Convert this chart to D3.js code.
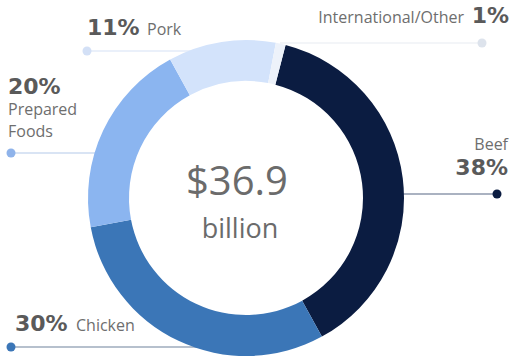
<!DOCTYPE html>
<html>
<head>
<meta charset="utf-8">
<script src="https://cdn.jsdelivr.net/npm/d3@7"></script>
<style>
  html, body { margin: 0; padding: 0; background: #ffffff; }
  svg { display: block; }
</style>
</head>
<body>
<div id="chart"></div>
<script>
// Segment data (share of $36.9 billion in sales)
const categories = ["Beef", "Chicken", "Prepared Foods", "Pork", "International/Other"];
const shares = [38, 30, 20, 11, 1];
const colors = ["#0b1c41", "#3b76b7", "#8bb5f0", "#d3e3fb", "#edf2fa"];
const totalLabel = "$36.9";
const unitLabel = "billion";

const width = 513, height = 360;
const cx = 246, cy = 198;
const outerR = 158, innerR = 117;

const svg = d3.select("#chart").append("svg")
  .attr("width", width).attr("height", height);

const startRad = 14.5 * Math.PI / 180;
const pie = d3.pie().sort(null).value(d => d.value)
  .startAngle(startRad).endAngle(startRad + 2 * Math.PI);
const arc = d3.arc().innerRadius(innerR).outerRadius(outerR);

const data = categories.map((c, i) => ({ name: c, value: shares[i], color: colors[i] }));
const arcs = pie(data);

// Leader line / label layout per category
const layout = {
  "Beef":               { dot: [497, 194], lineFrom: 380, lineColor: "#8e99ad", dotColor: "#0b1c41" },
  "Chicken":            { dot: [11, 347],  lineFrom: 230, lineColor: "#9eabbd", dotColor: "#3b76b7" },
  "Prepared Foods":     { dot: [11, 153],  lineFrom: 110, lineColor: "#cddbf0", dotColor: "#8fb3ea" },
  "Pork":               { dot: [87, 51],   lineFrom: 200, lineColor: "#e3ebf8", dotColor: "#d3e0f6" },
  "International/Other":{ dot: [482, 43],  lineFrom: 280, lineColor: "#eff2f6", dotColor: "#dde3ec" }
};

const leaders = svg.append("g");
data.forEach(d => {
  const L = layout[d.name];
  leaders.append("line")
    .attr("x1", L.lineFrom).attr("y1", L.dot[1])
    .attr("x2", L.dot[0]).attr("y2", L.dot[1])
    .attr("stroke", L.lineColor).attr("stroke-width", 1.5);
  leaders.append("circle")
    .attr("cx", L.dot[0]).attr("cy", L.dot[1]).attr("r", 4.5)
    .attr("fill", L.dotColor);
});

// Donut ring
svg.append("g").attr("transform", `translate(${cx},${cy})`)
  .selectAll("path").data(arcs).join("path")
  .attr("d", arc)
  .attr("fill", d => d.data.color);

const nameFont = "'Open Sans', sans-serif";
const pctFont = "'DejaVu Sans', Verdana, sans-serif";

// Center total
svg.append("text").attr("x", cx - 9).attr("y", 195)
  .attr("text-anchor", "middle").style("font-family", nameFont).style("font-size", "40px")
  .attr("fill", "#6b6b6b").text(totalLabel);
svg.append("text").attr("x", cx - 6).attr("y", 238)
  .attr("text-anchor", "middle").style("font-family", nameFont).style("font-size", "27px")
  .attr("fill", "#6b6b6b").text(unitLabel);

// Category labels
const pct = v => `${v}%`;
const labels = svg.append("g");

function pctText(x, y, v, anchor) {
  return labels.append("text").attr("x", x).attr("y", y)
    .attr("text-anchor", anchor || "start")
    .style("font-family", pctFont).style("font-weight", "bold")
    .style("font-size", "22px").attr("fill", "#5a5a5a").text(pct(v));
}
function nameText(x, y, t, anchor) {
  return labels.append("text").attr("x", x).attr("y", y)
    .attr("text-anchor", anchor || "start")
    .style("font-family", nameFont)
    .style("font-size", "16px").attr("fill", "#6e6e6e").text(t);
}

// Pork
pctText(87, 35, shares[3]);
nameText(147, 35, categories[3]);
// Prepared Foods (stacked)
pctText(8, 94, shares[2]);
nameText(8, 115, "Prepared");
nameText(8, 137, "Foods");
// Chicken
pctText(15, 331, shares[1]);
nameText(76, 331, categories[1]);
// Beef
nameText(508, 150, categories[0], "end");
pctText(508, 175, shares[0], "end");
// International/Other
pctText(509, 23, shares[4], "end");
nameText(464, 23, categories[4], "end");
</script>
</body>
</html>
